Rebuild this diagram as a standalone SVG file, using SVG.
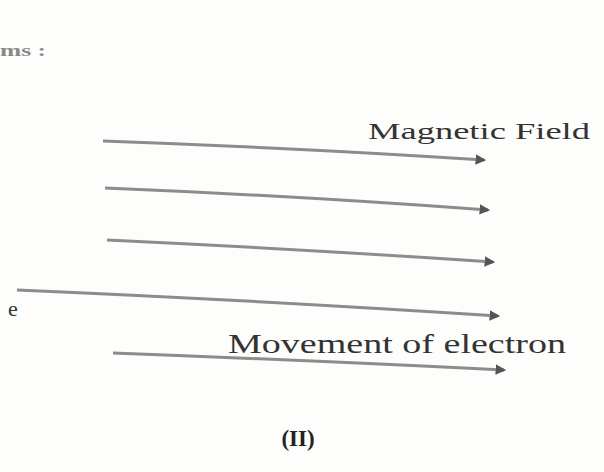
<svg xmlns="http://www.w3.org/2000/svg" width="604" height="472" viewBox="0 0 604 472">
<style>
.ln{stroke:#8c8c8c;stroke-width:3;fill:none;marker-end:url(#ah)}
.t{font-family:"Liberation Serif","DejaVu Serif",serif;fill:#333}
</style>
<defs>
<marker id="ah" viewBox="0 0 10 10" refX="8" refY="5" markerWidth="3.5" markerHeight="3.5" orient="auto" markerUnits="strokeWidth">
<path d="M0,0 L10,5 L0,10 z" fill="#555"/>
</marker>
</defs>
<rect width="604" height="472" fill="#fdfdfb"/>
<text class="t" x="0" y="56" font-size="17" font-weight="bold" textLength="46" lengthAdjust="spacingAndGlyphs" style="fill:#888">ms :</text>
<g id="connectors">
<path class="ln" d="M103,141 Q300,148 484,160"/>
<path class="ln" d="M105,188 Q300,196 488,210"/>
<path class="ln" d="M107,240 Q300,249 493,262"/>
<path class="ln" d="M17,290 Q250,300 498,316"/>
<path class="ln" d="M113,353 Q300,360 504,370"/>
</g>
<g id="magnetic-field"><text class="t" x="368" y="139" font-size="24" textLength="222" lengthAdjust="spacingAndGlyphs">Magnetic Field</text></g>
<g id="electron"><text class="t" x="8" y="316" font-size="22">e</text></g>
<g id="movement"><text class="t" x="228" y="353" font-size="27" textLength="338" lengthAdjust="spacingAndGlyphs">Movement of electron</text></g>
<g id="caption"><text class="t" x="298" y="446" font-size="23" font-weight="bold" text-anchor="middle" style="fill:#222">(II)</text></g>
</svg>
